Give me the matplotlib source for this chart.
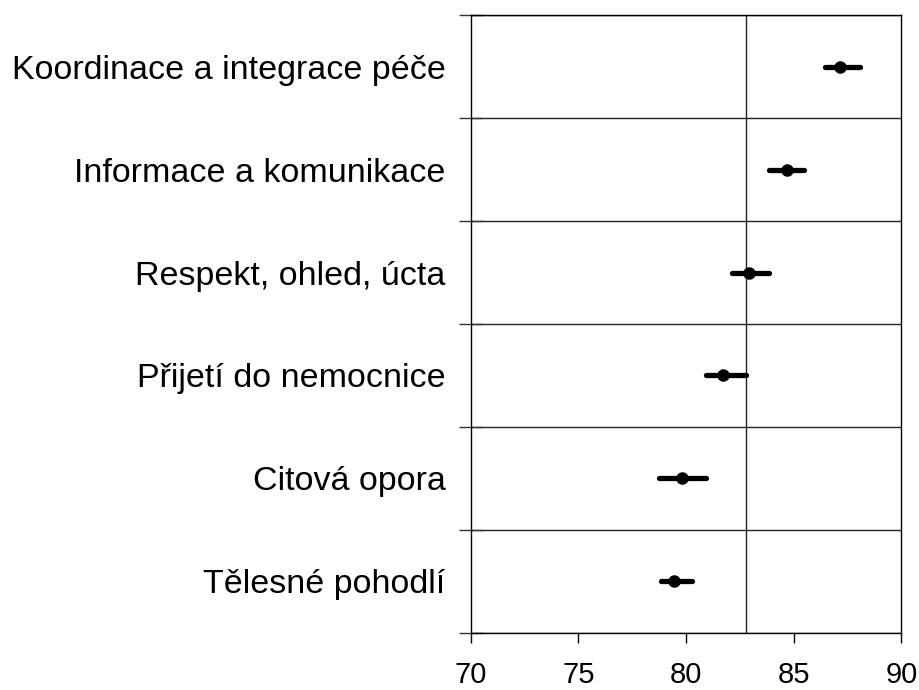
import matplotlib.pyplot as plt
import numpy as np

plt.rcParams['font.family'] = ['Liberation Sans', 'DejaVu Sans']

# kategorie shora dolů
kategorie = ['Koordinace a integrace péče', 'Informace a komunikace',
             'Respekt, ohled, úcta', 'Přijetí do nemocnice',
             'Citová opora', 'Tělesné pohodlí']
prumer = [87.15, 84.68, 82.94, 81.73, 79.81, 79.46]
dolni = [86.45, 83.86, 82.13, 80.93, 78.76, 78.84]
horni = [88.09, 85.49, 83.85, 82.77, 80.91, 80.26]
referencni = 82.8

x_ticks = [70, 75, 80, 85, 90]

fig = plt.figure(figsize=(9.19, 6.9), dpi=100)
ax = fig.add_axes([0.5122, 0.0830, 0.4685, 0.8948])

n = len(kategorie)
y = np.arange(n)[::-1]
prumer = np.array(prumer)
err = [prumer - np.array(dolni), np.array(horni) - prumer]

ax.axvline(referencni, color='#222222', lw=1.0, zorder=1)
eb = ax.errorbar(prumer, y, xerr=err, fmt='o', color='black', ms=8,
                 elinewidth=3.8, capsize=0, zorder=3)
for lc in eb[2]:
    lc.set_capstyle('round')

ax.set_xlim(70, 90)
ax.set_ylim(-0.5, n - 0.5)
ax.set_xticks(x_ticks)
ax.set_xticklabels([str(v) for v in x_ticks])

ax.set_yticks(y)
ax.set_yticklabels(kategorie)
ax.set_yticks(np.arange(-0.5, n, 1.0), minor=True)
ax.tick_params(axis='y', which='major', length=0, pad=18, labelsize=24.5)
ax.tick_params(axis='y', which='minor', direction='inout', length=17,
               width=1.0, color='#333333')
ax.tick_params(axis='x', direction='out', length=7, width=1.0, pad=13,
               labelsize=21)
ax.grid(which='minor', axis='y', color='#222222', lw=1.0)

for s in ax.spines.values():
    s.set_linewidth(1.0)
    s.set_color('black')

fig.savefig('out.png', dpi=100)
